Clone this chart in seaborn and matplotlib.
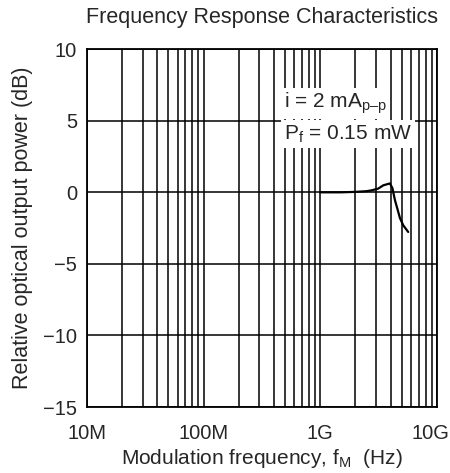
import seaborn as sns
import matplotlib.pyplot as plt
import matplotlib.ticker as mticker
import matplotlib.transforms as mtransforms
import pandas as pd
import numpy as np

sns.set_style("white")
plt.rcParams['font.family'] = ['Liberation Sans', 'DejaVu Sans']
plt.rcParams['mathtext.fontset'] = 'custom'
plt.rcParams['mathtext.rm'] = 'Liberation Sans'

# Frequency response (Hz, dB)
freq_hz = [1.0e9, 1.5e9, 2.0e9, 2.5e9, 2.76e9, 3.14e9, 3.47e9, 3.95e9,
           4.15e9, 4.37e9, 4.6e9, 4.82e9, 5.14e9, 5.67e9]
power_db = [0.0, 0.0, 0.03, 0.08, 0.14, 0.26, 0.49, 0.62,
            0.3, -0.56, -1.2, -1.8, -2.3, -2.77]

x_ticks = [1e7, 1e8, 1e9, 1e10]
x_labels = ['10M', '100M', '1G', '10G']
y_ticks = [-15, -10, -5, 0, 5, 10]

df = pd.DataFrame({'f': freq_hz, 'p': power_db})

fig = plt.figure(figsize=(4.5, 4.73), dpi=100)
ax = fig.add_axes([0.193, 0.1395, 0.778, 0.7565])

ax.set_xscale('log')
ax.set_xlim(1e7, 1e10)
ax.set_ylim(-15, 10)

# grid: every 1..9 in each decade, every 5 dB
ax.xaxis.set_major_locator(mticker.FixedLocator(x_ticks))
ax.xaxis.set_major_formatter(mticker.FixedFormatter(x_labels))
ax.xaxis.set_minor_locator(mticker.LogLocator(base=10, subs=np.arange(2, 10)))
ax.xaxis.set_minor_formatter(mticker.NullFormatter())
ax.set_yticks(y_ticks)
ax.grid(True, which='both', axis='x', color='black', lw=1.1)
ax.grid(True, which='major', axis='y', color='black', lw=1.1)
ax.tick_params(which='both', length=0, labelsize=14.5)
ax.tick_params(axis='x', pad=12)
ax.tick_params(axis='y', pad=7)

sns.lineplot(data=df, x='f', y='p', ax=ax, color='black', lw=1.6, zorder=3)

for s in ax.spines.values():
    s.set_color('black')
    s.set_linewidth(1.3)

# last x label sits a bit left so it stays inside the figure
fig.canvas.draw()
last = ax.get_xticklabels()[-1]
last.set_transform(last.get_transform() + mtransforms.ScaledTranslation(-7 / 100, 0, fig.dpi_scale_trans))

ax.set_title('Frequency Response Characteristics', fontsize=15.5, pad=19)
ax.set_xlabel('Modulation frequency, f$_\\mathregular{M}$  (Hz)', fontsize=15, labelpad=3)
ax.set_ylabel('Relative optical output power (dB)', fontsize=15.5, labelpad=7)

box = dict(facecolor='white', edgecolor='none', pad=2.0)
ax.text(0.563, 0.849, 'i = 2 mA$_\\mathregular{p\u2013p}$', transform=ax.transAxes,
        fontsize=15, va='center', ha='left', bbox=box, zorder=4)
ax.text(0.563, 0.763, 'P$_\\mathregular{f}$ = 0.15 mW', transform=ax.transAxes,
        fontsize=15, va='center', ha='left', bbox=box, zorder=4)

plt.savefig('out.png', dpi=100)
